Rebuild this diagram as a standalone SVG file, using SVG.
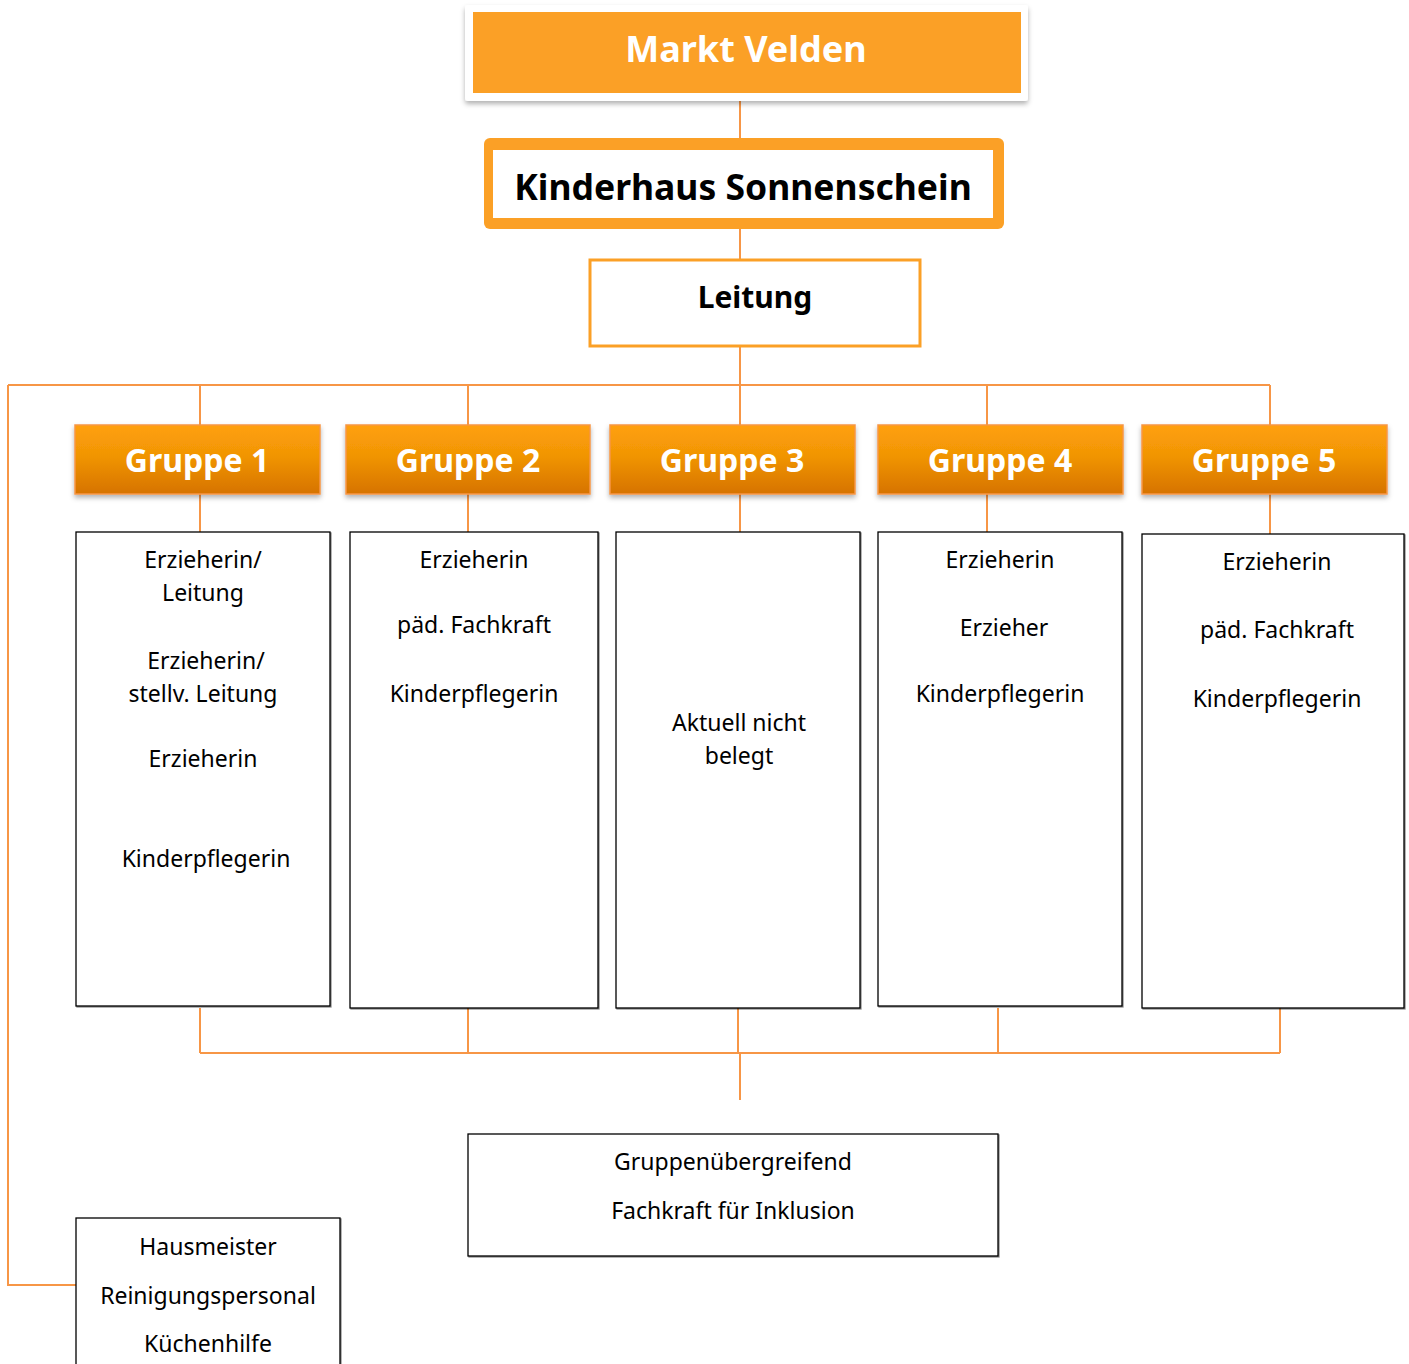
<svg xmlns="http://www.w3.org/2000/svg" width="1409" height="1364" viewBox="0 0 1409 1364">
<defs>
<linearGradient id="gg" x1="0" y1="0" x2="0" y2="1">
<stop offset="0" stop-color="#FFA00A"/>
<stop offset="0.45" stop-color="#F19505"/>
<stop offset="1" stop-color="#D67300"/>
</linearGradient>
<filter id="sh" x="-10%" y="-10%" width="120%" height="130%">
<feDropShadow dx="0" dy="3" stdDeviation="2.5" flood-color="#000" flood-opacity="0.3"/>
</filter>
<filter id="sh2" x="-10%" y="-10%" width="120%" height="130%">
<feDropShadow dx="1" dy="1" stdDeviation="0.6" flood-color="#000" flood-opacity="0.45"/>
</filter>
</defs>
<style>
.c{fill:none;stroke:#F79646;stroke-width:2}
.t{font-family:"Noto Sans","Open Sans",sans-serif;font-size:23px;fill:#000;text-anchor:middle}
.b{font-family:"Noto Sans","Open Sans",sans-serif;font-weight:bold;text-anchor:middle}
.gh{fill:url(#gg);stroke:#F79646;stroke-width:1.5;filter:url(#sh)}
.gt{fill:#fff;font-size:32px}
.box{fill:#fff;stroke:#000;stroke-width:1.3;filter:url(#sh2)}
</style>
<rect width="1409" height="1364" fill="#fff"/>
<g id="connectors">
<path class="c" d="M740 101V138M740 229V259M740 346V385M8 385H1270M200 385V425M468 385V425M740 385V425M987 385V425M1270 385V425"/>
<path class="c" d="M8 385V1285H76"/>
<path class="c" d="M200 494V532M468 494V532M740 494V532M987 494V532M1270 494V540"/>
<path class="c" d="M200 1008V1053M468 1008V1053M738 1008V1053M998 1008V1053M1280 1008V1053"/>
<path class="c" d="M200 1053H1280" stroke-width="2.5"/>
<path class="c" d="M740 1053V1100"/>
</g>
<g id="markt-velden">
<rect x="465" y="5" width="563" height="96" rx="3" fill="#fff" filter="url(#sh)"/>
<rect x="473" y="12" width="548" height="81" fill="#FBA026"/>
<text class="b" x="746" y="62" font-size="36" fill="#fff">Markt Velden</text>
</g>
<g id="kinderhaus">
<rect x="484" y="138" width="520" height="91" rx="6" fill="#FBA026"/>
<rect x="493" y="150" width="500" height="68" fill="#fff"/>
<text class="b" x="743" y="200" font-size="35.5" fill="#000">Kinderhaus Sonnenschein</text>
</g>
<g id="leitung">
<rect x="590" y="260" width="330" height="86" fill="#fff" stroke="#FBA026" stroke-width="3"/>
<text class="b" x="755" y="308" font-size="30" fill="#000">Leitung</text>
</g>
<g id="gruppe1-header"><rect class="gh" x="75" y="425" width="245" height="69"/><text class="b gt" x="197" y="472">Gruppe 1</text></g>
<g id="gruppe2-header"><rect class="gh" x="346" y="425" width="244" height="69"/><text class="b gt" x="468" y="472">Gruppe 2</text></g>
<g id="gruppe3-header"><rect class="gh" x="610" y="425" width="245" height="69"/><text class="b gt" x="732" y="472">Gruppe 3</text></g>
<g id="gruppe4-header"><rect class="gh" x="878" y="425" width="245" height="69"/><text class="b gt" x="1000" y="472">Gruppe 4</text></g>
<g id="gruppe5-header"><rect class="gh" x="1142" y="425" width="245" height="69"/><text class="b gt" x="1264" y="472">Gruppe 5</text></g>
<g id="gruppe1-staff">
<rect class="box" x="76" y="532" width="254" height="474"/>
<text class="t" x="203" y="568">Erzieherin/</text>
<text class="t" x="203" y="601">Leitung</text>
<text class="t" x="206" y="669">Erzieherin/</text>
<text class="t" x="203" y="702">stellv. Leitung</text>
<text class="t" x="203" y="767">Erzieherin</text>
<text class="t" x="206" y="867">Kinderpflegerin</text>
</g>
<g id="gruppe2-staff">
<rect class="box" x="350" y="532" width="248" height="476"/>
<text class="t" x="474" y="568">Erzieherin</text>
<text class="t" x="474" y="633">päd. Fachkraft</text>
<text class="t" x="474" y="702">Kinderpflegerin</text>
</g>
<g id="gruppe3-staff">
<rect class="box" x="616" y="532" width="244" height="476"/>
<text class="t" x="739" y="731">Aktuell nicht</text>
<text class="t" x="739" y="764">belegt</text>
</g>
<g id="gruppe4-staff">
<rect class="box" x="878" y="532" width="244" height="474"/>
<text class="t" x="1000" y="568">Erzieherin</text>
<text class="t" x="1004" y="636">Erzieher</text>
<text class="t" x="1000" y="702">Kinderpflegerin</text>
</g>
<g id="gruppe5-staff">
<rect class="box" x="1142" y="534" width="262" height="474"/>
<text class="t" x="1277" y="570">Erzieherin</text>
<text class="t" x="1277" y="638">päd. Fachkraft</text>
<text class="t" x="1277" y="707">Kinderpflegerin</text>
</g>
<g id="gruppenuebergreifend">
<rect class="box" x="468" y="1134" width="530" height="122"/>
<text class="t" x="733" y="1170">Gruppenübergreifend</text>
<text class="t" x="733" y="1219">Fachkraft für Inklusion</text>
</g>
<g id="hauspersonal">
<rect class="box" x="76" y="1218" width="264" height="160"/>
<text class="t" x="208" y="1255">Hausmeister</text>
<text class="t" x="208" y="1304">Reinigungspersonal</text>
<text class="t" x="208" y="1352">Küchenhilfe</text>
</g>
</svg>
